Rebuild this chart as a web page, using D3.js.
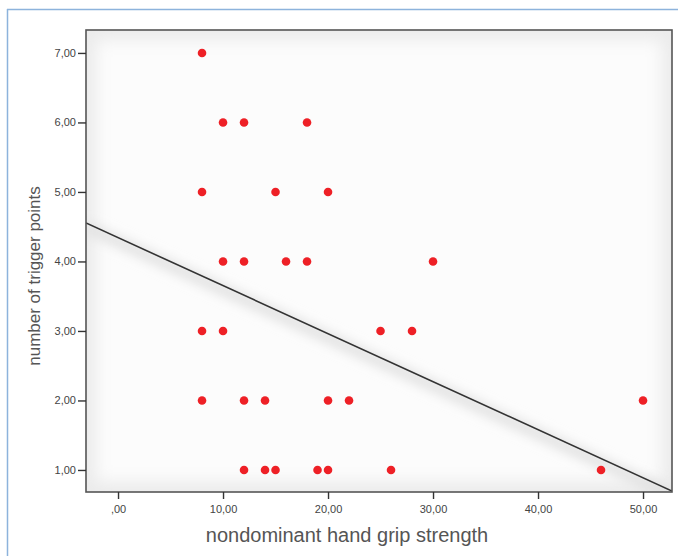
<!DOCTYPE html>
<html>
<head>
<meta charset="utf-8">
<script src="https://cdn.jsdelivr.net/npm/d3@7"></script>
<style>
  body { margin: 0; background: #fff; }
  svg { display: block; font-family: "Liberation Sans", Arial, sans-serif; }
</style>
</head>
<body>
<svg id="chart" width="678" height="556"></svg>
<script>
// data
var gripStrength = [8, 10, 12, 18, 8, 15, 20, 10, 12, 16, 18, 30, 8, 10, 25, 28,
                    8, 12, 14, 20, 22, 50, 12, 14, 15, 19, 20, 26, 46];
var triggerPoints = [7, 6, 6, 6, 5, 5, 5, 4, 4, 4, 4, 4, 3, 3, 3, 3,
                     2, 2, 2, 2, 2, 2, 1, 1, 1, 1, 1, 1, 1];
var xTicks = [0, 10, 20, 30, 40, 50];
var yTicks = [1, 2, 3, 4, 5, 6, 7];
var fitIntercept = 4.343;
var fitSlope = -0.0691;

var points = gripStrength.map(function(d, i) {
  return { x: d, y: triggerPoints[i] };
});

var width = 678;
var height = 556;
var margin = { top: 30, right: 6, bottom: 64, left: 86 };

var svg = d3.select("#chart");

// outer frame (blue)
svg.append("line")
  .attr("x1", 7).attr("x2", width).attr("y1", 9.5).attr("y2", 9.5)
  .attr("stroke", "#8db3dc").attr("stroke-width", 1.5);
svg.append("line")
  .attr("x1", 7.5).attr("x2", 7.5).attr("y1", 9).attr("y2", height)
  .attr("stroke", "#8db3dc").attr("stroke-width", 1.5);

var x_scale = d3.scaleLinear()
  .domain([-3.05, 52.76])
  .range([margin.left, width - margin.right]);

var y_scale = d3.scaleLinear()
  .domain([0.683, 7.33])
  .range([height - margin.bottom, margin.top]);

var plotW = width - margin.right - margin.left;
var plotH = height - margin.bottom - margin.top;

var defs = svg.append("defs");
defs.append("filter").attr("id", "soft")
  .attr("x", "-20%").attr("y", "-20%").attr("width", "140%").attr("height", "140%")
  .append("feGaussianBlur").attr("stdDeviation", 8);
defs.append("filter").attr("id", "shadow")
  .attr("x", "-20%").attr("y", "-50%").attr("width", "140%").attr("height", "200%")
  .append("feGaussianBlur").attr("stdDeviation", 6);
defs.append("clipPath").attr("id", "plotClip")
  .append("rect")
  .attr("x", margin.left).attr("y", margin.top)
  .attr("width", plotW).attr("height", plotH);

// shaded plot background
var bg = svg.append("g").attr("clip-path", "url(#plotClip)");
bg.append("rect")
  .attr("x", margin.left).attr("y", margin.top)
  .attr("width", plotW).attr("height", plotH)
  .attr("fill", "#ebebeb");
bg.append("rect")
  .attr("x", margin.left + 10).attr("y", margin.top + 10)
  .attr("width", plotW - 20).attr("height", plotH - 20)
  .attr("fill", "#fcfcfc")
  .attr("filter", "url(#soft)");

// soft shadow under the fit line
bg.append("line")
  .attr("x1", x_scale(-3.05)).attr("y1", y_scale(fitIntercept + fitSlope * -3.05) + 4)
  .attr("x2", x_scale(52.76)).attr("y2", y_scale(fitIntercept + fitSlope * 52.76) + 4)
  .attr("stroke", "#dedede").attr("stroke-width", 10)
  .attr("filter", "url(#shadow)");

// fit line
bg.append("line")
  .attr("x1", x_scale(-3.05)).attr("y1", y_scale(fitIntercept + fitSlope * -3.05))
  .attr("x2", x_scale(52.76)).attr("y2", y_scale(fitIntercept + fitSlope * 52.76))
  .attr("stroke", "#333").attr("stroke-width", 1.6);

// points
svg.selectAll("circle")
  .data(points)
  .enter()
  .append("circle")
  .attr("cx", function(d) { return x_scale(d.x); })
  .attr("cy", function(d) { return y_scale(d.y); })
  .attr("r", 4.3)
  .attr("fill", "#ee2026");

// plot border
svg.append("rect")
  .attr("x", margin.left).attr("y", margin.top)
  .attr("width", plotW).attr("height", plotH)
  .attr("fill", "none")
  .attr("stroke", "#555").attr("stroke-width", 1.6);

var fmt = function(d) {
  var s = d3.format(".2f")(d).replace(".", ",");
  return s.charAt(0) === "0" ? s.slice(1) : s;
};

var x_axis = d3.axisBottom(x_scale).tickValues(xTicks).tickFormat(fmt)
  .tickSizeInner(7).tickSizeOuter(0).tickPadding(6);
var gx = svg.append("g")
  .attr("class", "x-axis")
  .attr("transform", "translate(0," + (height - margin.bottom) + ")")
  .call(x_axis);
gx.select(".domain").remove();
gx.selectAll("line").attr("stroke", "#333").attr("stroke-width", 1.4);
gx.selectAll("text").attr("font-size", 11).attr("fill", "#444");

var y_axis = d3.axisLeft(y_scale).tickValues(yTicks).tickFormat(fmt)
  .tickSizeInner(8).tickSizeOuter(0).tickPadding(2);
var gy = svg.append("g")
  .attr("class", "y-axis")
  .attr("transform", "translate(" + margin.left + ",0)")
  .call(y_axis);
gy.select(".domain").remove();
gy.selectAll("line").attr("stroke", "#333").attr("stroke-width", 1.4);
gy.selectAll("text").attr("font-size", 11).attr("fill", "#444");

// axis titles
svg.append("text")
  .attr("x", 347)
  .attr("y", 542)
  .attr("text-anchor", "middle")
  .attr("font-size", 20)
  .attr("fill", "#555")
  .text("nondominant hand grip strength");

svg.append("text")
  .attr("transform", "translate(40,276) rotate(-90)")
  .attr("text-anchor", "middle")
  .attr("font-size", 17)
  .attr("fill", "#555")
  .text("number of trigger points");
</script>
</body>
</html>
